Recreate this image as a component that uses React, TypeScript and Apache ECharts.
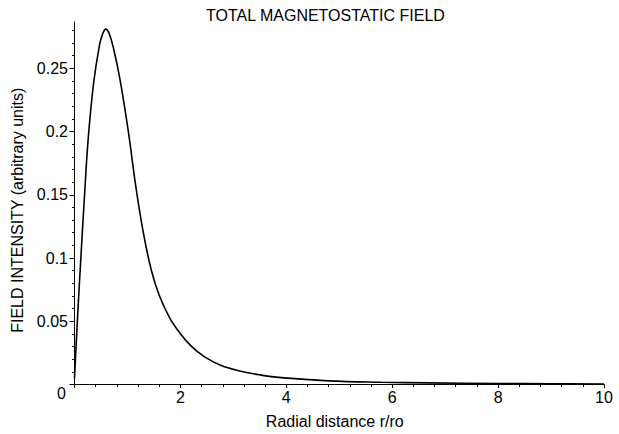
import React, { useEffect, useRef } from "react";
import * as echarts from "echarts";

// Radial distance r/ro
const radius: number[] = [0, 0.06, 0.12, 0.19, 0.26, 0.36, 0.47, 0.53, 0.59, 0.65, 0.73, 0.86, 1.02, 1.16, 1.3, 1.45, 1.6, 1.8, 2.0, 2.2, 2.45, 2.75, 3.1, 3.5, 3.9, 4.8, 5.8, 6.7, 8, 9, 10];
// Field intensity (arbitrary units)
const intensity: number[] = [0.005, 0.055, 0.1, 0.15, 0.195, 0.238, 0.268, 0.277, 0.281, 0.278, 0.267, 0.241, 0.199, 0.156, 0.12, 0.0905, 0.0705, 0.0525, 0.0402, 0.0305, 0.022, 0.0154, 0.0109, 0.0076, 0.0054, 0.0029, 0.0018, 0.0013, 0.0008, 0.0006, 0.0004];

const yMajorTicks: number[] = [0, 0.05, 0.1, 0.15, 0.2, 0.25];
const yMinorTicks: number[] = [0.01, 0.02, 0.03, 0.04, 0.06, 0.07, 0.08, 0.09, 0.11, 0.12, 0.13, 0.14, 0.16, 0.17, 0.18, 0.19, 0.21, 0.22, 0.23, 0.24, 0.26, 0.27, 0.28];
const xMajorTicks: number[] = [0, 2, 4, 6, 8, 10];

const TITLE = "TOTAL MAGNETOSTATIC FIELD";
const X_NAME = "Radial distance r/ro";
const Y_NAME = "FIELD INTENSITY (arbitrary units)";

const FONT = "'Liberation Sans', Arial, Helvetica, sans-serif";

export default function App() {
  const ref = useRef<HTMLDivElement>(null);
  useEffect(() => {
    if (!ref.current) return;
    const chart = echarts.init(ref.current, undefined, { renderer: "svg" });
    const yMin = 0;
    const yMax = 0.2866;
    chart.setOption({
      animation: false,
      backgroundColor: "#ffffff",
      textStyle: { fontFamily: FONT },
      title: {
        text: TITLE,
        left: 206,
        top: 7,
        padding: 0,
        textStyle: { fontFamily: FONT, fontSize: 16, fontWeight: "normal", color: "#000" },
      },
      grid: { left: 74.5, right: 15, top: 22, bottom: 49.5, containLabel: false, outerBoundsMode: "none" },
      xAxis: {
        type: "value",
        min: 0,
        max: 10,
        interval: 2,
        name: X_NAME,
        nameLocation: "middle",
        nameGap: 29,
        nameTextStyle: { fontFamily: FONT, fontSize: 16, color: "#000", padding: [0, 9, 0, 0] },
        axisLine: { show: true, onZero: false, lineStyle: { color: "#000", width: 1 } },
        axisTick: { show: true, length: 3.5, lineStyle: { color: "#000" }, customValues: xMajorTicks },
        minorTick: { show: true, splitNumber: 5, length: 2.5, lineStyle: { color: "#000" } },
        splitLine: { show: false },
        minorSplitLine: { show: false },
        axisLabel: {
          fontFamily: FONT,
          fontSize: 16,
          color: "#000",
          margin: 5,
          customValues: xMajorTicks.filter((v) => v !== 0),
        },
      },
      yAxis: [
        {
          type: "value",
          min: yMin,
          max: yMax,
          position: "left",
          name: Y_NAME,
          nameLocation: "middle",
          nameGap: 39,
          nameTextStyle: { fontFamily: FONT, fontSize: 16, color: "#000", padding: [0, 14, 0, 0] },
          axisLine: { show: true, onZero: false, lineStyle: { color: "#000", width: 1 } },
          axisTick: { show: true, length: 5, lineStyle: { color: "#000" }, customValues: yMajorTicks },
          splitLine: { show: false },
          axisLabel: {
            fontFamily: FONT,
            fontSize: 16,
            color: "#000",
            margin: 6.5,
            customValues: yMajorTicks,
            formatter: (v: number) => (v === 0 ? "{z|0}" : String(v)),
            rich: { z: { fontFamily: FONT, fontSize: 16, color: "#000", padding: [18, 2, 0, 0] } },
          },
        },
        {
          type: "value",
          min: yMin,
          max: yMax,
          position: "left",
          axisLine: { show: false },
          axisTick: { show: true, length: 2.5, lineStyle: { color: "#000" }, customValues: yMinorTicks },
          axisLabel: { show: false },
          splitLine: { show: false },
        },
      ],
      series: [
        {
          type: "line",
          data: radius.map((r, i) => [r, intensity[i]]),
          showSymbol: false,
          smooth: 0.4,
          lineStyle: { color: "#000", width: 1.6 },
          clip: true,
        },
      ],
    });
    return () => chart.dispose();
  }, []);
  return <div ref={ref} style={{ position: "absolute", left: 0, top: 0, width: 619, height: 434 }} />;
}
